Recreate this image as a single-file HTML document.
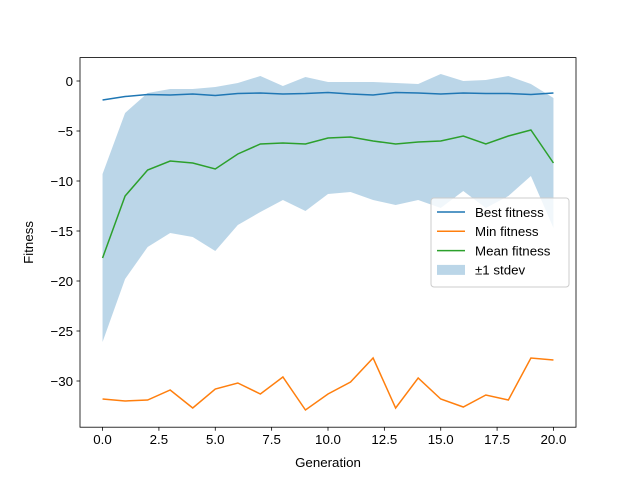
<!DOCTYPE html>
<html><head><meta charset="utf-8"><style>body{margin:0;background:#fff}svg{display:block;font-family:"Liberation Sans","DejaVu Sans",sans-serif}</style></head>
<body>
<svg id="chart" width="640" height="480" xmlns="http://www.w3.org/2000/svg"></svg>
<script>
const generations=[0,1,2,3,4,5,6,7,8,9,10,11,12,13,14,15,16,17,18,19,20];
const bestFitness=[-1.9,-1.55,-1.35,-1.4,-1.3,-1.45,-1.25,-1.2,-1.3,-1.25,-1.15,-1.3,-1.4,-1.15,-1.2,-1.3,-1.2,-1.25,-1.25,-1.35,-1.2];
const minFitness=[-31.8,-32.0,-31.9,-30.9,-32.7,-30.8,-30.2,-31.3,-29.6,-32.9,-31.3,-30.1,-27.7,-32.7,-29.7,-31.8,-32.6,-31.4,-31.9,-27.7,-27.9];
const meanFitness=[-17.7,-11.5,-8.9,-8.0,-8.2,-8.8,-7.3,-6.3,-6.2,-6.3,-5.7,-5.6,-6.0,-6.3,-6.1,-6.0,-5.5,-6.3,-5.5,-4.9,-8.2];
const stdFitness=[8.4,8.3,7.7,7.2,7.4,8.2,7.1,6.8,5.7,6.7,5.6,5.5,5.9,6.1,5.8,6.7,5.5,6.4,6.0,4.6,6.5];
const xTicks=[0,2.5,5,7.5,10,12.5,15,17.5,20];
const xTickLabels=["0.0","2.5","5.0","7.5","10.0","12.5","15.0","17.5","20.0"];
const yTicks=[0,-5,-10,-15,-20,-25,-30];
const yTickLabels=["0","−5","−10","−15","−20","−25","−30"];

const svg=document.getElementById('chart');
const NS='http://www.w3.org/2000/svg';
const L=80,R=576,T=57.6,B=427.2;
const xMin=-1,xMax=21,yMin=-34.62,yMax=2.34;
const xs=v=>L+(v-xMin)/(xMax-xMin)*(R-L);
const ys=v=>B-(v-yMin)/(yMax-yMin)*(B-T);
function mk(tag,attrs){const e=document.createElementNS(NS,tag);for(const k in attrs)e.setAttribute(k,attrs[k]);svg.appendChild(e);return e;}

let pts=generations.map((g,i)=>xs(g)+','+ys(meanFitness[i]+stdFitness[i]));
pts=pts.concat(generations.map((g,i)=>xs(g)+','+ys(meanFitness[i]-stdFitness[i])).reverse());
const band=mk('polygon',{points:pts.join(' '),fill:'#1f77b4','fill-opacity':0.3});



function line(data,color,name){
  const p=mk('polyline',{points:generations.map((g,i)=>xs(g)+','+ys(data[i])).join(' '),fill:'none',stroke:color,'stroke-width':1.5});
  
  
}
line(bestFitness,'#1f77b4','best-fitness-line');
line(minFitness,'#ff7f0e','min-fitness-line');
line(meanFitness,'#2ca02c','mean-fitness-line');

const frame=mk('rect',{x:L,y:T,width:R-L,height:B-T,fill:'none',stroke:'#000','stroke-width':0.8});



xTicks.forEach((v,i)=>{
  mk('line',{x1:xs(v),x2:xs(v),y1:B,y2:B+3.5,stroke:'#000','stroke-width':0.8});
  const t=mk('text',{x:xs(v),y:B+17,'text-anchor':'middle','font-size':13.3});
  t.textContent=xTickLabels[i];
  
  
});
yTicks.forEach((v,i)=>{
  mk('line',{x1:L,x2:L-3.5,y1:ys(v),y2:ys(v),stroke:'#000','stroke-width':0.8});
  const t=mk('text',{x:L-7,y:ys(v)+4.8,'text-anchor':'end','font-size':13.3});
  t.textContent=yTickLabels[i];
  
  
});
const xt=mk('text',{x:(L+R)/2,y:467,'text-anchor':'middle','font-size':13.3});
xt.textContent='Generation';


const yt=mk('text',{x:33,y:(T+B)/2,'text-anchor':'middle','font-size':13.3,transform:'rotate(-90 33 '+((T+B)/2)+')'});
yt.textContent='Fitness';



const lg=mk('rect',{x:431,y:198,width:138,height:89,rx:3,fill:'#fff','fill-opacity':0.8,stroke:'#ccc','stroke-width':1});


const entries=[['Best fitness','#1f77b4','line'],['Min fitness','#ff7f0e','line'],['Mean fitness','#2ca02c','line'],['±1 stdev','#1f77b4','patch']];
entries.forEach((e,i)=>{
  const y=212+i*19.3;
  if(e[2]==='line') mk('line',{x1:437,x2:465,y1:y,y2:y,stroke:e[1],'stroke-width':1.5});
  else mk('rect',{x:437,y:y-5,width:28,height:10,fill:e[1],'fill-opacity':0.3});
  const t=mk('text',{x:475,y:y+4.8,'font-size':13.3});
  t.textContent=e[0];
  
  
});
</script>
</body></html>
